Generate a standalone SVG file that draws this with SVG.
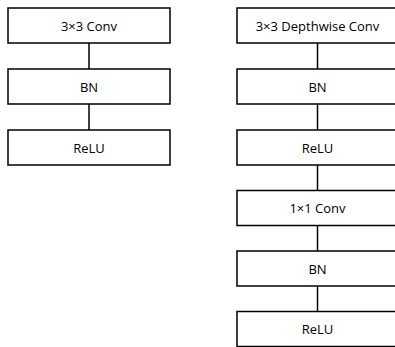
<svg xmlns="http://www.w3.org/2000/svg" width="395" height="347" viewBox="0 0 395 347">
<style>
.box{fill:#fff;stroke:#000;stroke-width:1.5}
.lbl{font-family:"Open Sans","Liberation Sans",sans-serif;font-size:13px;fill:#000;text-anchor:middle;dominant-baseline:central}
.con{stroke:#000;stroke-width:1.5;fill:none}
</style>
<rect width="395" height="347" fill="#fff"/>
<g id="connectors">
<line class="con" x1="89" y1="43" x2="89" y2="69"/>
<line class="con" x1="89" y1="104" x2="89" y2="130"/>
<line class="con" x1="317.5" y1="43" x2="317.5" y2="69"/>
<line class="con" x1="317.5" y1="104" x2="317.5" y2="130"/>
<line class="con" x1="317.5" y1="165" x2="317.5" y2="190.5"/>
<line class="con" x1="317.5" y1="225.5" x2="317.5" y2="251"/>
<line class="con" x1="317.5" y1="286" x2="317.5" y2="312"/>
</g>
<g id="l-conv"><rect class="box" x="8" y="8" width="162" height="35"/><text class="lbl" x="89" y="25.5">3×3 Conv</text></g>
<g id="l-bn"><rect class="box" x="8" y="69" width="162" height="35"/><text class="lbl" x="89" y="86.5">BN</text></g>
<g id="l-relu"><rect class="box" x="8" y="130" width="162" height="35"/><text class="lbl" x="89" y="147.5">ReLU</text></g>
<g id="r-dwconv"><rect class="box" x="237" y="8" width="162" height="35"/><text class="lbl" x="317.5" y="25.5">3×3 Depthwise Conv</text></g>
<g id="r-bn1"><rect class="box" x="237" y="69" width="162" height="35"/><text class="lbl" x="317.5" y="86.5">BN</text></g>
<g id="r-relu1"><rect class="box" x="237" y="130" width="162" height="35"/><text class="lbl" x="317.5" y="147.5">ReLU</text></g>
<g id="r-pwconv"><rect class="box" x="237" y="190.5" width="162" height="35"/><text class="lbl" x="317.5" y="208">1×1 Conv</text></g>
<g id="r-bn2"><rect class="box" x="237" y="251" width="162" height="35"/><text class="lbl" x="317.5" y="268.5">BN</text></g>
<g id="r-relu2"><rect class="box" x="237" y="311.5" width="162" height="35"/><text class="lbl" x="317.5" y="329">ReLU</text></g>
</svg>
